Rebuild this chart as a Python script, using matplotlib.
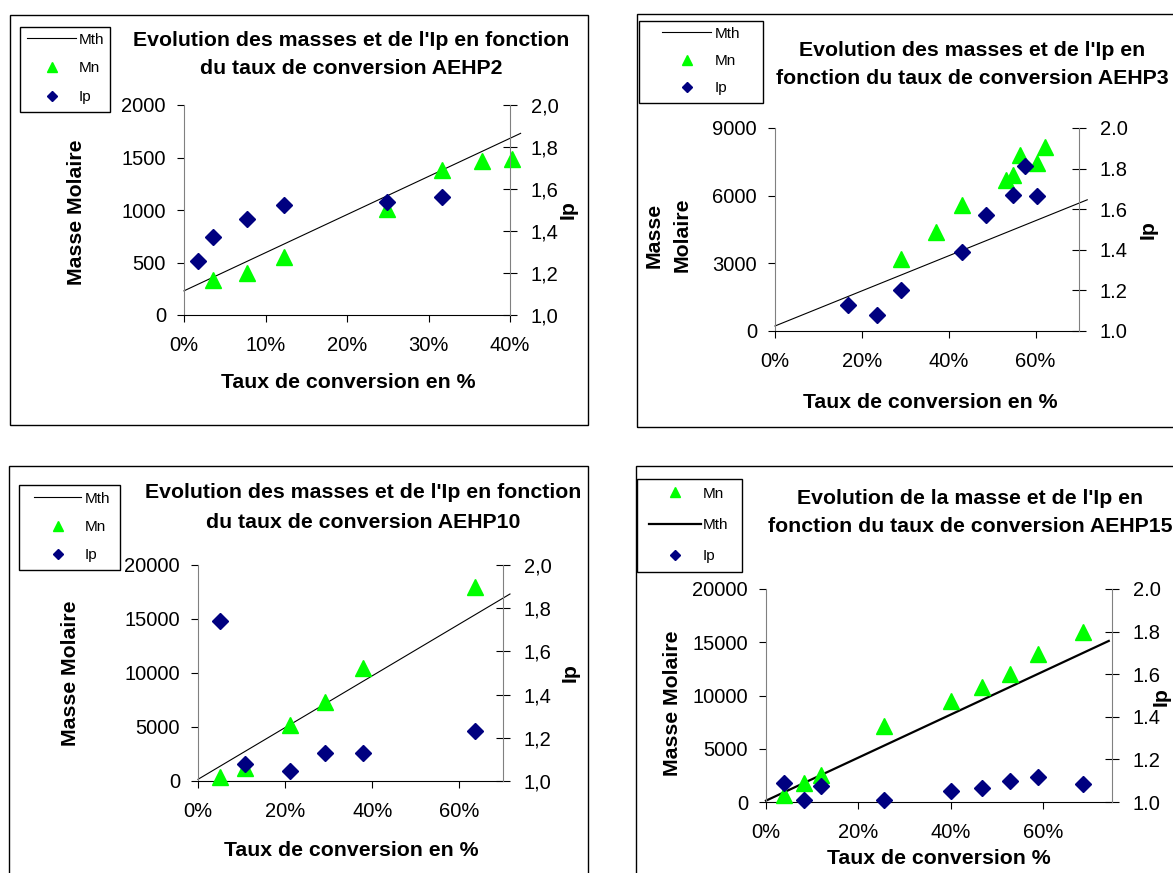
import matplotlib
matplotlib.use("Agg")
import matplotlib.pyplot as plt
from matplotlib.patches import Rectangle
from matplotlib.ticker import FuncFormatter, PercentFormatter

plt.rcParams["font.family"] = ["Liberation Sans", "DejaVu Sans"]

# ── Data ──────────────────────────────────────────────────────────────────────
# AEHP2
AEHP2_MN_CONV = [0.035, 0.077, 0.123, 0.249, 0.317, 0.366, 0.403]
AEHP2_MN = [333, 403, 555, 1010, 1381, 1470, 1486]
AEHP2_IP_CONV = [0.017, 0.036, 0.077, 0.123, 0.249, 0.317]
AEHP2_IP = [1.257, 1.370, 1.458, 1.526, 1.539, 1.563]
AEHP2_MTH_CONV = [0.0, 0.413]
AEHP2_MTH = [230, 1730]

# AEHP3
AEHP3_MN_CONV = [0.291, 0.371, 0.430, 0.531, 0.548, 0.563, 0.604, 0.622]
AEHP3_MN = [3183, 4411, 5595, 6705, 6928, 7816, 7446, 8141]
AEHP3_IP_CONV = [0.169, 0.234, 0.291, 0.430, 0.485, 0.548, 0.576, 0.603]
AEHP3_IP = [1.128, 1.079, 1.202, 1.391, 1.569, 1.671, 1.811, 1.663]
AEHP3_MTH_CONV = [0.0, 0.719]
AEHP3_MTH = [222, 5817]

# AEHP10
AEHP10_MN_CONV = [0.050, 0.107, 0.210, 0.292, 0.378, 0.635]
AEHP10_MN = [400, 1170, 5185, 7346, 10494, 17994]
AEHP10_IP_CONV = [0.050, 0.107, 0.210, 0.292, 0.378, 0.635]
AEHP10_IP = [1.742, 1.079, 1.046, 1.131, 1.131, 1.231]
AEHP10_MTH_CONV = [0.0, 0.716]
AEHP10_MTH = [154, 17315]

# AEHP15
AEHP15_MN_CONV = [0.039, 0.083, 0.120, 0.256, 0.402, 0.469, 0.528, 0.589, 0.687]
AEHP15_MN = [688, 1781, 2563, 7094, 9438, 10844, 12031, 13875, 16000]
AEHP15_IP_CONV = [0.039, 0.083, 0.120, 0.256, 0.402, 0.469, 0.528, 0.589, 0.687]
AEHP15_IP = [1.089, 1.011, 1.073, 1.011, 1.050, 1.066, 1.100, 1.117, 1.084]
AEHP15_MTH_CONV = [0.0, 0.743]
AEHP15_MTH = [125, 15125]

TITLE_2 = ["Evolution des masses et de l'Ip en fonction", "du taux de conversion AEHP2"]
TITLE_3 = ["Evolution des masses et de l'Ip en", "fonction du taux de conversion AEHP3"]
TITLE_10 = ["Evolution des masses et de l'Ip en fonction", "du taux de conversion AEHP10"]
TITLE_15 = ["Evolution de la masse et de l'Ip en", "fonction du taux de conversion AEHP15"]

# ── Style ─────────────────────────────────────────────────────────────────────
W, H = 1173, 873
MN_COLOR = "#00FF00"
IP_COLOR = "#000080"
AXIS_GRAY = "#808080"
FS_TICK = 14.5
FS_BOLD = 15.3
FS_LEG = 11


def fx(px):
    return px / W


def fy(py):
    return 1 - py / H


PANELS = [
    dict(mn_x=AEHP2_MN_CONV, mn=AEHP2_MN, ip_x=AEHP2_IP_CONV, ip=AEHP2_IP,
         mth_x=AEHP2_MTH_CONV, mth=AEHP2_MTH, title=TITLE_2,
         ylabel=["Masse Molaire"], xlabel="Taux de conversion en %",
         xmax=0.40, xstep=0.10, ymax=2000, ystep=500, comma=True, mth_lw=0.8,
         order=["Mth", "Mn", "Ip"],
         border=(10, 15, 588, 425), ax=(184, 510, 105, 315),
         leg=(20, 27, 110, 112), leg_h=(27, 76, 79), leg_y=40, leg_dy=29,
         title_x=351, title_y=(40, 68), ylab_x=[77], ylab_y=212,
         ip_xy=(568, 210), xlab_xy=(348, 383)),
    dict(mn_x=AEHP3_MN_CONV, mn=AEHP3_MN, ip_x=AEHP3_IP_CONV, ip=AEHP3_IP,
         mth_x=AEHP3_MTH_CONV, mth=AEHP3_MTH, title=TITLE_3,
         ylabel=["Masse", "Molaire"], xlabel="Taux de conversion en %",
         xmax=0.70, xstep=0.20, ymax=9000, ystep=3000, comma=False, mth_lw=0.8,
         order=["Mth", "Mn", "Ip"],
         border=(637, 14, 1200, 427), ax=(775, 1079, 128, 331),
         leg=(639, 21, 763, 103), leg_h=(662, 711, 715), leg_y=34, leg_dy=27.5,
         title_x=972, title_y=(50, 78), ylab_x=[654, 682], ylab_y=235,
         ip_xy=(1148, 230), xlab_xy=(930, 403)),
    dict(mn_x=AEHP10_MN_CONV, mn=AEHP10_MN, ip_x=AEHP10_IP_CONV, ip=AEHP10_IP,
         mth_x=AEHP10_MTH_CONV, mth=AEHP10_MTH, title=TITLE_10,
         ylabel=["Masse Molaire"], xlabel="Taux de conversion en %",
         xmax=0.70, xstep=0.20, ymax=20000, ystep=5000, comma=True, mth_lw=0.8,
         order=["Mth", "Mn", "Ip"],
         border=(9, 466, 588, 900), ax=(198, 503, 565, 781),
         leg=(19, 485, 120, 570), leg_h=(34, 81, 85), leg_y=499, leg_dy=28.5,
         title_x=363, title_y=(493, 522), ylab_x=[71], ylab_y=673,
         ip_xy=(570, 673), xlab_xy=(351, 850)),
    dict(mn_x=AEHP15_MN_CONV, mn=AEHP15_MN, ip_x=AEHP15_IP_CONV, ip=AEHP15_IP,
         mth_x=AEHP15_MTH_CONV, mth=AEHP15_MTH, title=TITLE_15,
         ylabel=["Masse Molaire"], xlabel="Taux de conversion %",
         xmax=0.75, xstep=0.20, ymax=20000, ystep=5000, comma=False, mth_lw=1.6,
         order=["Mn", "Mth", "Ip"],
         border=(636, 466, 1200, 900), ax=(766, 1112, 589, 802),
         leg=(637, 479, 742, 572), leg_h=(649, 701, 703), leg_y=494, leg_dy=31.5,
         title_x=970, title_y=(498, 526), ylab_x=[672], ylab_y=703,
         ip_xy=(1161, 697), xlab_xy=(939, 858)),
]


def frange(stop, step):
    n = int(round(stop / step))
    vals = [i * step for i in range(n + 1)]
    return [v for v in vals if v <= stop + 1e-9]


def draw_panel(fig, p):
    # panel frame
    bx0, by0, bx1, by1 = p["border"]
    fig.add_artist(Rectangle((fx(bx0), fy(by1)), (bx1 - bx0) / W, (by1 - by0) / H,
                             transform=fig.transFigure, fill=False,
                             edgecolor="black", lw=1.0))

    x0, x1, ytop, ybot = p["ax"]
    ax = fig.add_axes([fx(x0), fy(ybot), (x1 - x0) / W, (ybot - ytop) / H])
    ax.patch.set_visible(False)
    ax2 = ax.twinx()

    mth_line, = ax.plot(p["mth_x"], p["mth"], color="black", lw=p["mth_lw"],
                        clip_on=False, zorder=2, label="Mth")
    mn_pts, = ax.plot(p["mn_x"], p["mn"], ls="none", marker="^", ms=12,
                      color=MN_COLOR, mec=MN_COLOR, clip_on=False, zorder=3,
                      label="Mn")
    ip_pts, = ax2.plot(p["ip_x"], p["ip"], ls="none", marker="D", ms=8.5,
                       color=IP_COLOR, mec=IP_COLOR, clip_on=False, zorder=3,
                       label="Ip")

    ax.set_xlim(0, p["xmax"])
    ax.set_ylim(0, p["ymax"])
    ax2.set_ylim(1.0, 2.0)
    ax.set_xticks(frange(p["xmax"], p["xstep"]))
    ax.set_yticks(frange(p["ymax"], p["ystep"]))
    ax2.set_yticks([1.0, 1.2, 1.4, 1.6, 1.8, 2.0])
    ax.xaxis.set_major_formatter(PercentFormatter(1.0, decimals=0))
    if p["comma"]:
        ax2.yaxis.set_major_formatter(FuncFormatter(lambda v, _: f"{v:.1f}".replace(".", ",")))
    else:
        ax2.yaxis.set_major_formatter(FuncFormatter(lambda v, _: f"{v:.1f}"))

    for a in (ax, ax2):
        a.spines["top"].set_visible(False)
        for s in a.spines.values():
            s.set_linewidth(0.8)
    ax.spines["right"].set_visible(False)
    ax.spines["left"].set_color(AXIS_GRAY)
    ax.spines["bottom"].set_color("black")
    ax2.spines["left"].set_visible(False)
    ax2.spines["bottom"].set_visible(False)
    ax2.spines["right"].set_color(AXIS_GRAY)

    ax.tick_params(axis="y", direction="out", length=5, width=0.8, pad=8,
                   labelsize=FS_TICK)
    ax.tick_params(axis="x", direction="out", length=5, width=0.8, pad=10,
                   labelsize=FS_TICK)
    ax2.tick_params(axis="y", direction="inout", length=10, width=0.8, pad=10,
                    labelsize=FS_TICK)

    # titles and axis labels
    for line, y in zip(p["title"], p["title_y"]):
        fig.text(fx(p["title_x"]), fy(y), line, ha="center", va="center",
                 fontsize=FS_BOLD, fontweight="bold")
    for line, x in zip(p["ylabel"], p["ylab_x"]):
        fig.text(fx(x), fy(p["ylab_y"]), line, ha="center", va="center",
                 rotation=90, fontsize=FS_BOLD, fontweight="bold")
    fig.text(fx(p["ip_xy"][0]), fy(p["ip_xy"][1]), "Ip", ha="center", va="center",
             rotation=90, fontsize=FS_BOLD, fontweight="bold")
    fig.text(fx(p["xlab_xy"][0]), fy(p["xlab_xy"][1]), p["xlabel"], ha="center",
             va="center", fontsize=FS_BOLD, fontweight="bold")

    # legend: frame drawn separately, entries placed by pixel
    lx0, ly0, lx1, ly1 = p["leg"]
    fig.add_artist(Rectangle((fx(lx0), fy(ly1)), (lx1 - lx0) / W, (ly1 - ly0) / H,
                             transform=fig.transFigure, fill=False,
                             edgecolor="black", lw=1.0))
    fs_px = FS_LEG * 100 / 72
    hl, hr, tx = p["leg_h"]
    row_h = 0.94 * fs_px
    handles = {"Mth": mth_line, "Mn": mn_pts, "Ip": ip_pts}
    fig.legend([handles[k] for k in p["order"]], p["order"],
               loc="upper left",
               bbox_to_anchor=(fx(hl), fy(p["leg_y"] - row_h / 2)),
               bbox_transform=fig.transFigure, frameon=False,
               borderpad=0, borderaxespad=0, fontsize=FS_LEG,
               handlelength=(hr - hl) / fs_px,
               handletextpad=(tx - hr) / fs_px,
               labelspacing=(p["leg_dy"] - row_h) / fs_px,
               markerscale=0.55)


fig = plt.figure(figsize=(W / 100, H / 100), dpi=100)
for panel in PANELS:
    draw_panel(fig, panel)

fig.savefig("out.png", dpi=100)
